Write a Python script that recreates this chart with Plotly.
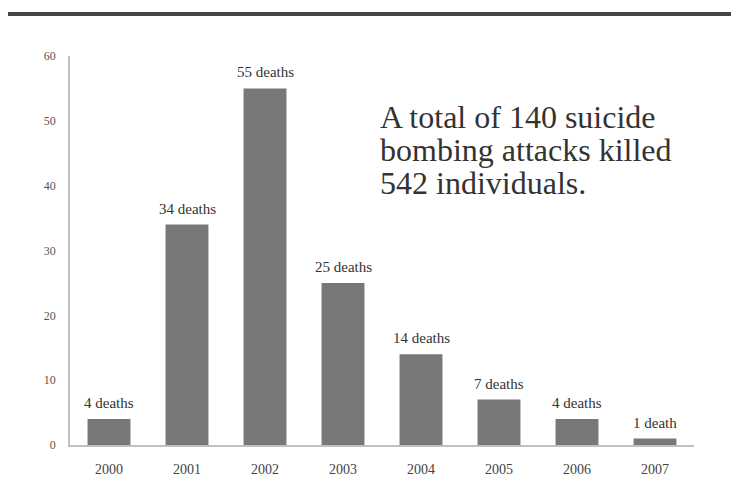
import plotly.graph_objects as go

years = ["2000", "2001", "2002", "2003", "2004", "2005", "2006", "2007"]
deaths = [4, 34, 55, 25, 14, 7, 4, 1]
labels = ["4 deaths", "34 deaths", "55 deaths", "25 deaths", "14 deaths", "7 deaths", "4 deaths", "1 death"]
y_ticks = [0, 10, 20, 30, 40, 50, 60]
note_lines = ["A total of 140 suicide", "bombing attacks killed", "542 individuals."]

serif = "Liberation Serif"

fig = go.Figure(go.Bar(
    x=years, y=deaths,
    marker=dict(color="#787878", line=dict(width=0)),
    cliponaxis=False,
))

annotations = []
for i, (d, lab) in enumerate(zip(deaths, labels)):
    annotations.append(dict(x=i, y=d, xref="x", yref="y", text=lab, showarrow=False,
                            yanchor="bottom", yshift=6,
                            font=dict(family=serif, size=15, color="#333333")))

line_centers_px = [117, 150, 183]
for txt, cy in zip(note_lines, line_centers_px):
    annotations.append(dict(text=txt, xref="paper", yref="paper", x=(378 - 70) / 624,
                            y=1 - (cy - 56) / 389, xanchor="left", yanchor="middle",
                            align="left", showarrow=False,
                            font=dict(family=serif, size=32, color="#333333")))

fig.update_layout(
    width=731, height=498,
    margin=dict(l=70, r=37, t=56, b=53),
    paper_bgcolor="white", plot_bgcolor="white",
    bargap=0.45,
    showlegend=False,
    xaxis=dict(type="category", showgrid=False, showline=True, linecolor="#c0c0c0", linewidth=1.5,
               ticks="", tickfont=dict(family=serif, size=14, color="#444444"), range=[-0.5, 7.5],
               ticklabelstandoff=10),
    yaxis=dict(range=[0, 60], tickvals=y_ticks, showgrid=False, zeroline=False, showline=True,
               linecolor="#c0c0c0", linewidth=1.5, ticks="",
               tickfont=dict(family=serif, size=12, color="#555555"), ticklabelstandoff=10),
    annotations=annotations,
    shapes=[dict(type="line", xref="paper", yref="paper", x0=(8 - 70) / 624, x1=(731 - 70) / 624,
                 y0=1 + (56 - 14) / 389, y1=1 + (56 - 14) / 389,
                 line=dict(color="#444444", width=4))],
)

fig.write_html("out.html")
